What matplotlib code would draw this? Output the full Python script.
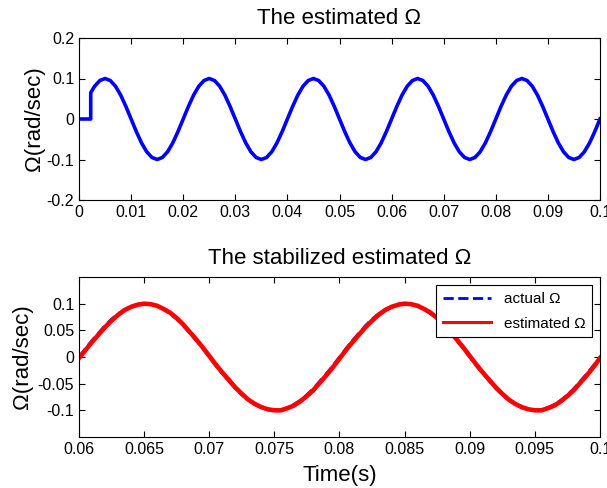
import numpy as np
import matplotlib
matplotlib.use("Agg")
import matplotlib.pyplot as plt

plt.rcParams['font.family'] = ['Liberation Sans', 'DejaVu Sans']

# top plot: estimated omega, sampled every 1 ms (after the start-up jump)
t_start = [0.0, 0.00225, 0.00225]
w_start = [0.0, 0.0, 0.065]
w_top = [0.081, 0.095, 0.100, 0.095, 0.081, 0.059, 0.031, 0.0, -0.031, -0.059,
         -0.081, -0.095, -0.100, -0.095, -0.081, -0.059, -0.031,
         0.0, 0.031, 0.059, 0.081, 0.095, 0.100, 0.095, 0.081, 0.059, 0.031,
         0.0, -0.031, -0.059, -0.081, -0.095, -0.100, -0.095, -0.081, -0.059, -0.031,
         0.0, 0.031, 0.059, 0.081, 0.095, 0.100, 0.095, 0.081, 0.059, 0.031,
         0.0, -0.031, -0.059, -0.081, -0.095, -0.100, -0.095, -0.081, -0.059, -0.031,
         0.0, 0.031, 0.059, 0.081, 0.095, 0.100, 0.095, 0.081, 0.059, 0.031,
         0.0, -0.031, -0.059, -0.081, -0.095, -0.100, -0.095, -0.081, -0.059, -0.031,
         0.0, 0.031, 0.059, 0.081, 0.095, 0.100, 0.095, 0.081, 0.059, 0.031,
         0.0, -0.031, -0.059, -0.081, -0.095, -0.100, -0.095, -0.081, -0.059, -0.031,
         0.0]
t_top = np.linspace(0.003, 0.1, len(w_top))

# bottom plot: zoom 0.06..0.1, sampled every 0.5 ms
w_actual = [0.0, 0.016, 0.031, 0.045, 0.059, 0.071, 0.081, 0.089, 0.095, 0.099,
            0.100, 0.099, 0.095, 0.089, 0.081, 0.071, 0.059, 0.045, 0.031, 0.016,
            0.0, -0.016, -0.031, -0.045, -0.059, -0.071, -0.081, -0.089, -0.095, -0.099,
            -0.100, -0.099, -0.095, -0.089, -0.081, -0.071, -0.059, -0.045, -0.031, -0.016,
            0.0, 0.016, 0.031, 0.045, 0.059, 0.071, 0.081, 0.089, 0.095, 0.099,
            0.100, 0.099, 0.095, 0.089, 0.081, 0.071, 0.059, 0.045, 0.031, 0.016,
            0.0, -0.016, -0.031, -0.045, -0.059, -0.071, -0.081, -0.089, -0.095, -0.099,
            -0.100, -0.099, -0.095, -0.089, -0.081, -0.071, -0.059, -0.045, -0.031, -0.016,
            0.0]
w_est = [-0.002, 0.013, 0.028, 0.042, 0.056, 0.068, 0.079, 0.088, 0.094, 0.098,
         0.100, 0.099, 0.096, 0.090, 0.083, 0.073, 0.061, 0.047, 0.033, 0.018,
         0.002, -0.014, -0.029, -0.043, -0.057, -0.069, -0.080, -0.088, -0.094, -0.098,
         -0.100, -0.100, -0.096, -0.091, -0.083, -0.073, -0.062, -0.048, -0.034, -0.019,
         -0.003, 0.013, 0.028, 0.042, 0.056, 0.068, 0.079, 0.088, 0.094, 0.098,
         0.100, 0.099, 0.096, 0.090, 0.083, 0.073, 0.061, 0.047, 0.033, 0.018,
         0.002, -0.014, -0.029, -0.043, -0.057, -0.069, -0.080, -0.088, -0.094, -0.098,
         -0.100, -0.100, -0.096, -0.091, -0.083, -0.073, -0.062, -0.048, -0.034, -0.019,
         -0.002]
t_bot = np.linspace(0.06, 0.1, len(w_actual))

fig = plt.figure(figsize=(6.07, 4.88), dpi=100)
ax1 = fig.add_axes([79 / 607, 1 - 200 / 488, 521 / 607, 162 / 488])
ax2 = fig.add_axes([79 / 607, 1 - 437 / 488, 521 / 607, 160 / 488])

ax1.plot(list(t_start) + list(t_top), list(w_start) + list(w_top), color='blue', lw=2.6)
ax1.set_xlim(0, 0.1)
ax1.set_ylim(-0.2, 0.2)
ax1.set_xticks([0, 0.01, 0.02, 0.03, 0.04, 0.05, 0.06, 0.07, 0.08, 0.09, 0.1])
ax1.set_xticklabels(['0', '0.01', '0.02', '0.03', '0.04', '0.05', '0.06', '0.07', '0.08', '0.09', '0.1'])
ax1.set_yticks([-0.2, -0.1, 0, 0.1, 0.2])
ax1.set_yticklabels(['-0.2', '-0.1', '0', '0.1', '0.2'])
ax1.set_title('The estimated \u03a9', fontsize=16, pad=10)
ax1.set_ylabel('\u03a9(rad/sec)', fontsize=16, labelpad=1)

ax2.plot(t_bot, w_actual, '--', color='blue', lw=2, label='actual \u03a9')
ax2.plot(t_bot, w_est, '-', color='red', lw=3.3, label='estimated \u03a9')
ax2.set_xlim(0.06, 0.1)
ax2.set_ylim(-0.15, 0.15)
ax2.set_xticks([0.06, 0.065, 0.07, 0.075, 0.08, 0.085, 0.09, 0.095, 0.1])
ax2.set_xticklabels(['0.06', '0.065', '0.07', '0.075', '0.08', '0.085', '0.09', '0.095', '0.1'])
ax2.set_yticks([-0.1, -0.05, 0, 0.05, 0.1])
ax2.set_yticklabels(['-0.1', '-0.05', '0', '0.05', '0.1'])
ax2.set_title('The stabilized estimated \u03a9', fontsize=16, pad=9)
ax2.set_ylabel('\u03a9(rad/sec)', fontsize=16, labelpad=3)
ax2.set_xlabel('Time(s)', fontsize=16, labelpad=6)
leg = ax2.legend(loc='upper right', fontsize=11, frameon=True, fancybox=False,
                 framealpha=1, edgecolor='black', handlelength=3.2, borderpad=0.45,
                 labelspacing=0.7, bbox_to_anchor=(0.985, 0.95), borderaxespad=0)
leg.get_frame().set_linewidth(0.8)
leg.get_lines()[1].set_linewidth(2.2)

for ax in (ax1, ax2):
    ax.tick_params(direction='in', top=True, right=True, labelsize=11.5, length=4)
    for s in ax.spines.values():
        s.set_linewidth(0.8)

fig.savefig('out.png', dpi=100)
